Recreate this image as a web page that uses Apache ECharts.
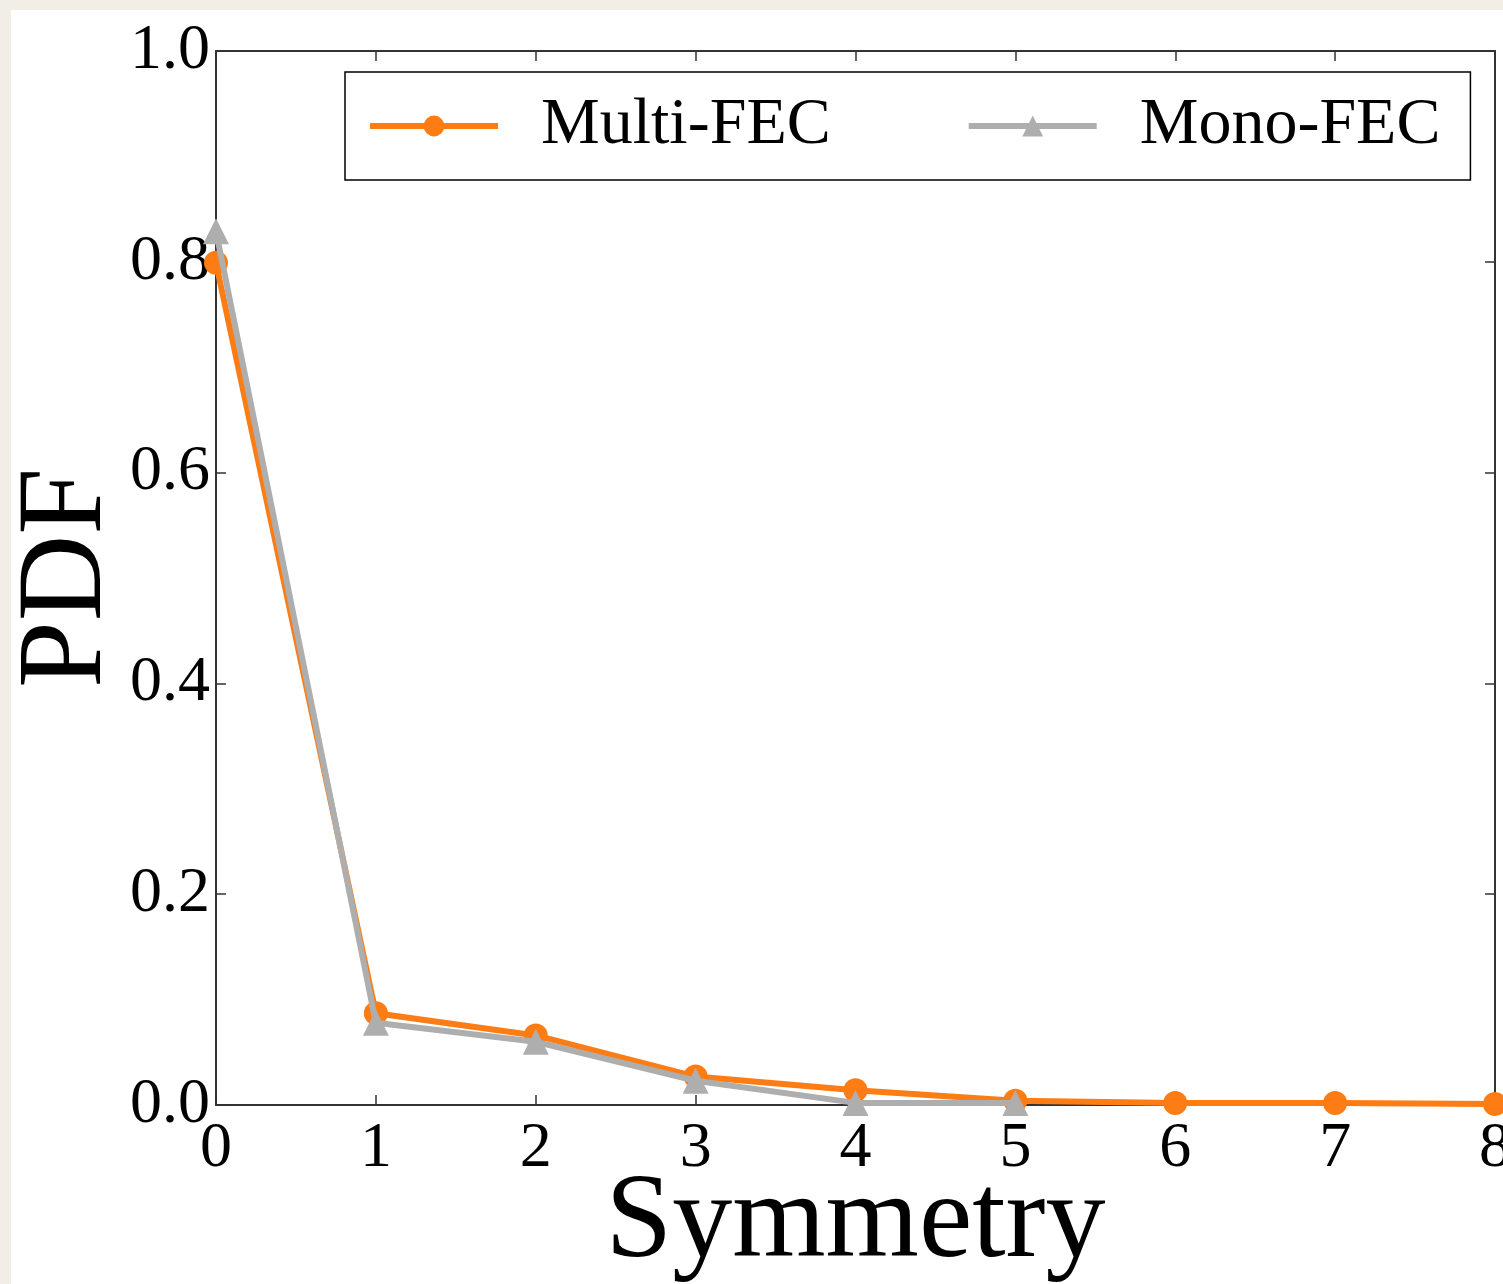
<!DOCTYPE html>
<html><head><meta charset="utf-8">
<script src="https://cdn.jsdelivr.net/npm/echarts@6/dist/echarts.min.js"></script>
<style>
html,body{margin:0;padding:0;background:#f1eee8;}
#wrap{position:absolute;left:11px;top:10px;width:1492px;height:1274px;background:#fff;}
#c{width:1492px;height:1274px;}
</style></head><body>
<div id="wrap"><div id="c"></div></div>
<script>
const symmetry = [0, 1, 2, 3, 4, 5, 6, 7, 8];
const multiFEC = [0.799, 0.087, 0.066, 0.027, 0.014, 0.004, 0.002, 0.002, 0.001];
const monoFEC  = [0.829, 0.078, 0.060, 0.023, 0.002, 0.002];
const yTicks = [0, 0.2, 0.4, 0.6, 0.8, 1.0];
const xTicks = [0, 1, 2, 3, 4, 5, 6, 7, 8];

const font = 'Liberation Serif';
const chart = echarts.init(document.getElementById('c'), null, {renderer: 'canvas'});
const axisLineStyle = {color: '#333', width: 2};
const baseX = {
  type: 'value', min: 0, max: 8, interval: 1,
  axisLine: {show: true, lineStyle: axisLineStyle, onZero: false},
  axisTick: {show: true, inside: true, length: 10, lineStyle: {color: '#333', width: 1.5}},
  splitLine: {show: false}
};
const baseY = {
  type: 'value', min: 0, max: 1, interval: 0.2,
  axisLine: {show: true, lineStyle: axisLineStyle, onZero: false},
  axisTick: {show: true, inside: true, length: 10, lineStyle: {color: '#333', width: 1.5}},
  splitLine: {show: false}
};
chart.setOption({
  animation: false,
  grid: {left: 205, top: 41, right: 8, bottom: 179, containLabel: false, outerBoundsMode: 'none'},
  legend: {
    left: 334, top: 62,
    padding: [21, 30, 21, 22],
    borderColor: '#000', borderWidth: 1.5,
    itemWidth: 128, itemHeight: 26, itemGap: 135,
    lineStyle: {width: 6},
    textStyle: {fontFamily: font, fontSize: 66, color: '#000', padding: [0, 0, 0, 38]},
    data: ['Multi-FEC', 'Mono-FEC']
  },
  xAxis: [
    Object.assign({}, baseX, {
      position: 'bottom',
      name: 'Symmetry', nameLocation: 'middle', nameGap: 119, nameMoveOverlap: false,
      nameTextStyle: {fontFamily: font, fontSize: 120, color: '#000', verticalAlign: 'middle'},
      axisLabel: {show: true, margin: 12, fontFamily: font, fontSize: 64, color: '#000',
        formatter: v => xTicks.includes(v) ? String(v) : ''}
    }),
    Object.assign({}, baseX, {position: 'top', axisLabel: {show: false}})
  ],
  yAxis: [
    Object.assign({}, baseY, {
      position: 'left',
      name: 'PDF', nameLocation: 'middle', nameGap: 148, nameMoveOverlap: false,
      nameTextStyle: {fontFamily: font, fontSize: 120, color: '#000', verticalAlign: 'middle'},
      axisLabel: {show: true, margin: 6, fontFamily: font, fontSize: 64, color: '#000',
        formatter: v => v.toFixed(1)}
    }),
    Object.assign({}, baseY, {position: 'right', axisLabel: {show: false}})
  ],
  series: [
    {
      name: 'Multi-FEC', type: 'line', xAxisIndex: 0, yAxisIndex: 0,
      data: multiFEC.map((v, i) => [symmetry[i], v]),
      symbol: 'circle', symbolSize: 24, z: 2, clip: false,
      lineStyle: {color: '#fd7c13', width: 6},
      itemStyle: {color: '#fd7c13'}
    },
    {
      name: 'Mono-FEC', type: 'line', xAxisIndex: 0, yAxisIndex: 0,
      data: monoFEC.map((v, i) => [symmetry[i], v]),
      symbol: 'triangle', symbolSize: 26, z: 3, clip: false,
      lineStyle: {color: '#aeaeae', width: 6},
      itemStyle: {color: '#aeaeae'}
    }
  ]
});
</script></body></html>
